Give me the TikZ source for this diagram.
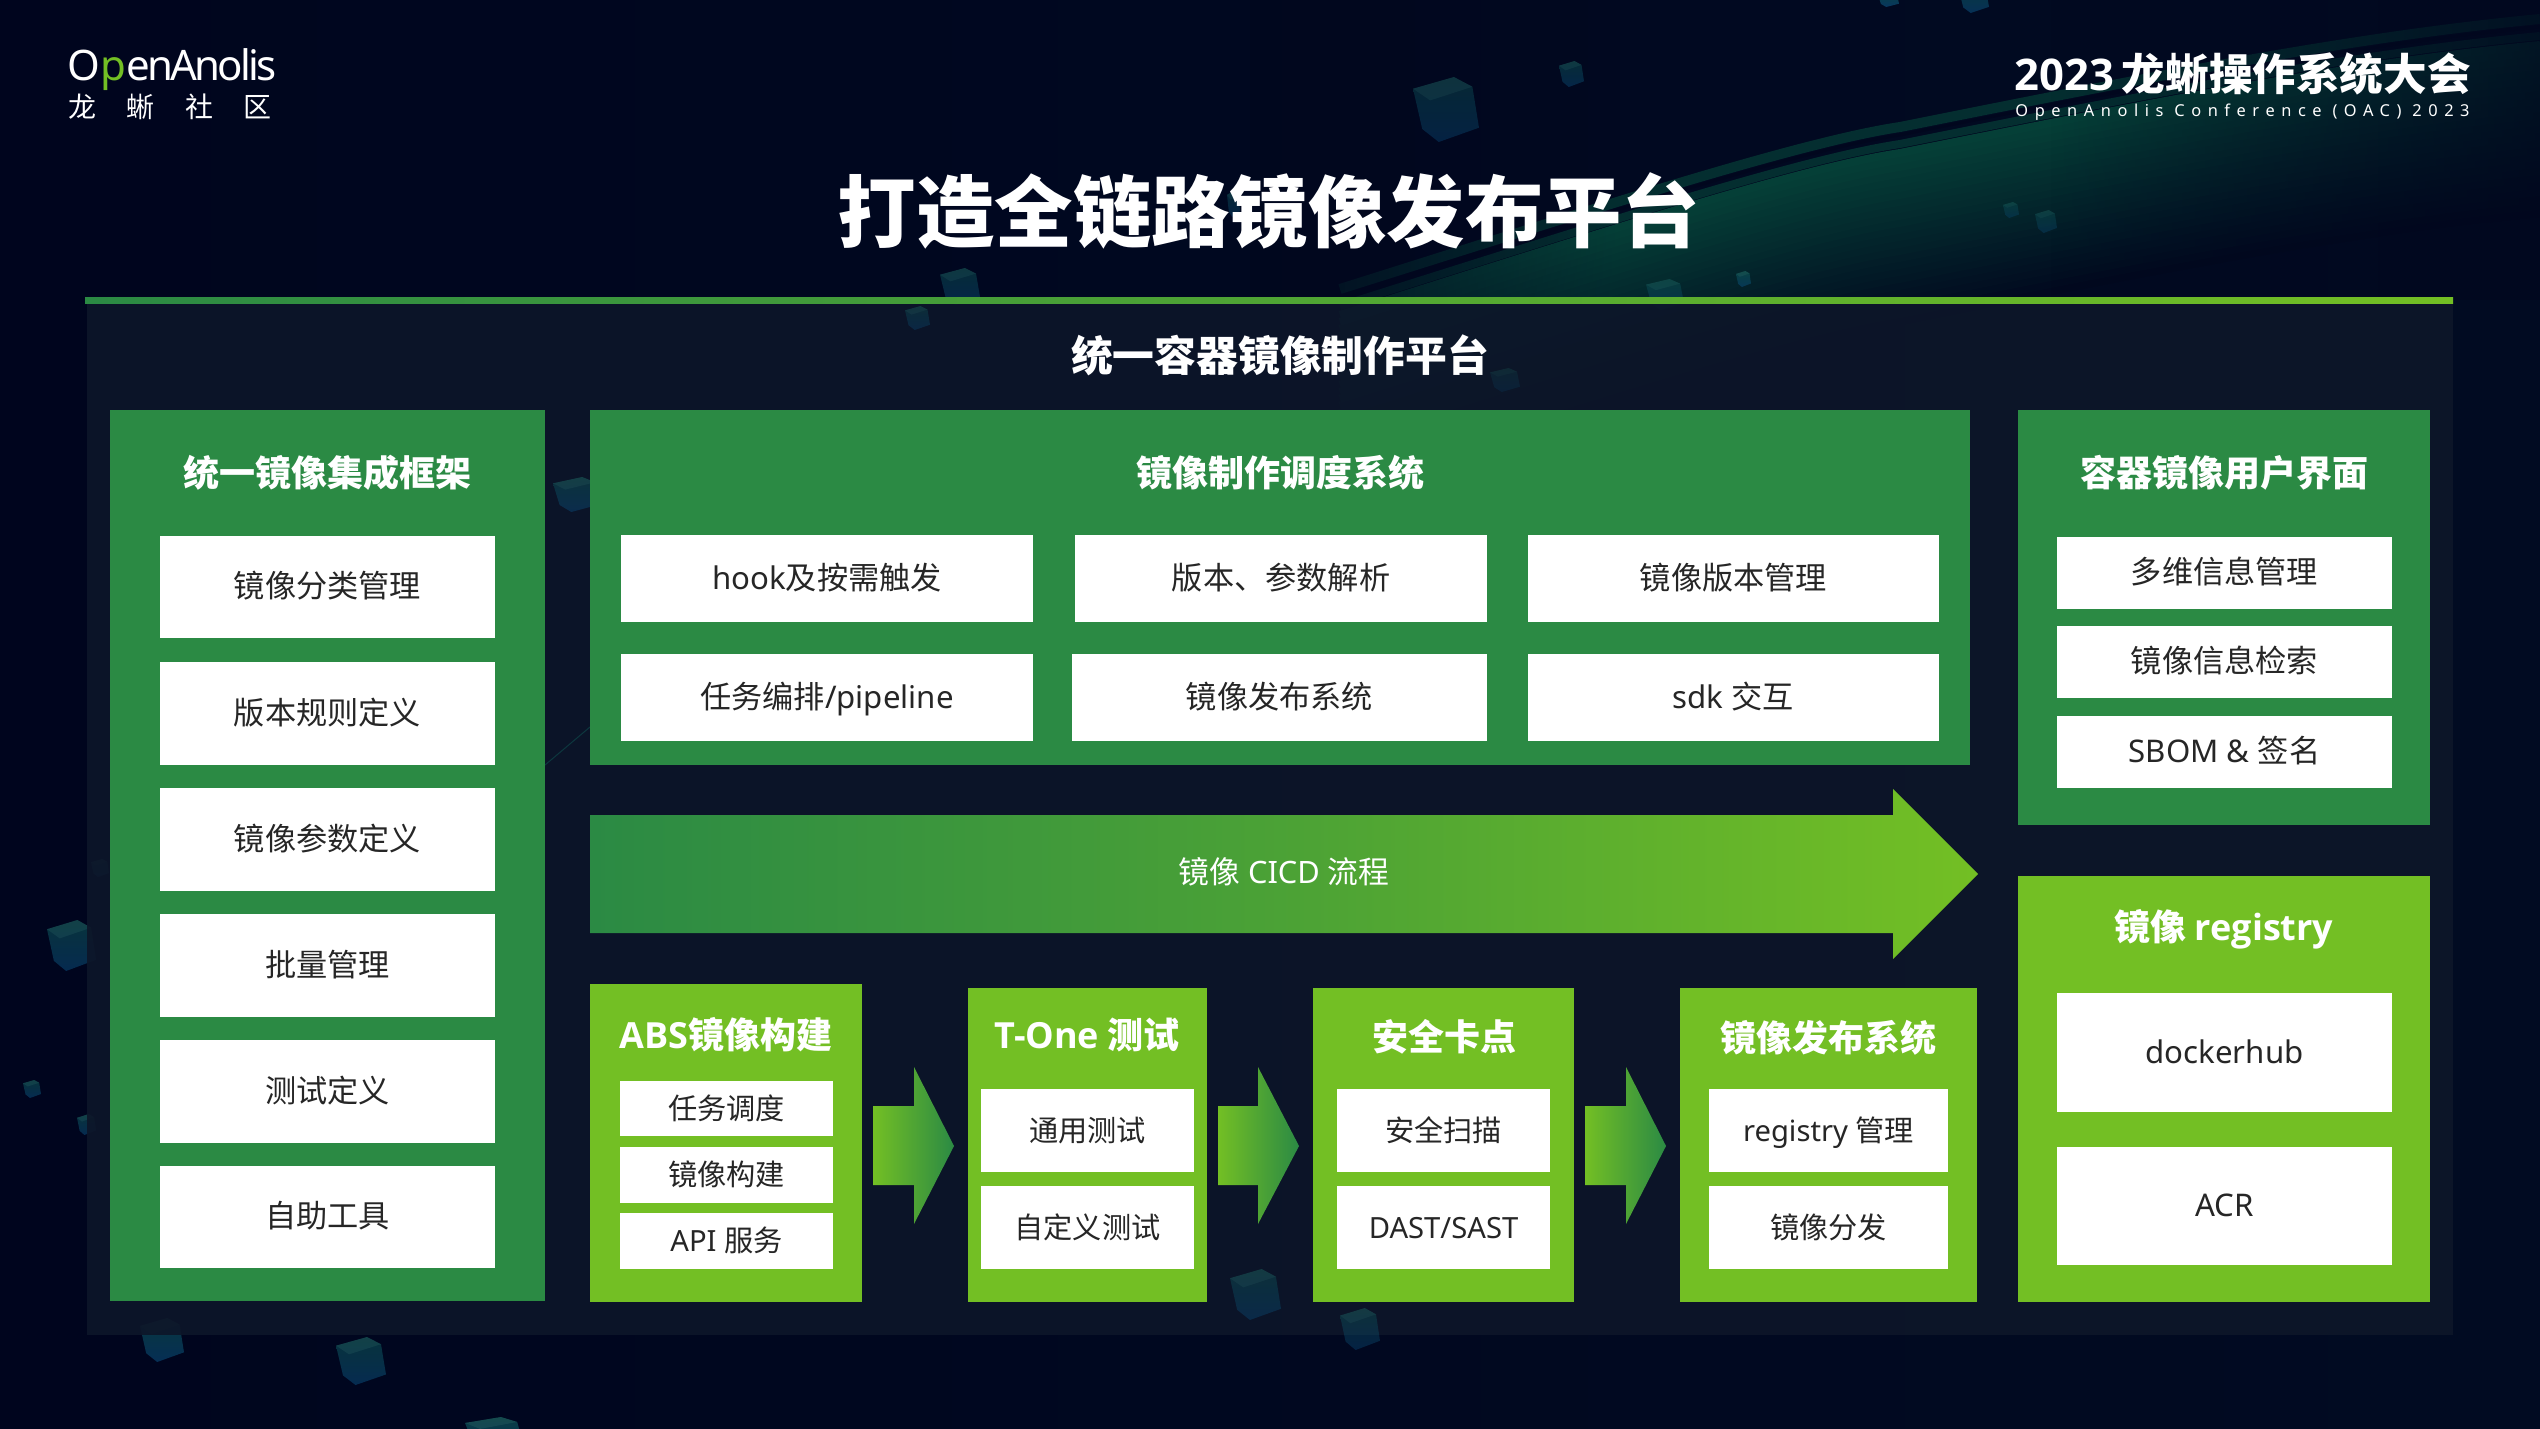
\documentclass[tikz,border=0pt]{standalone}
\usepackage{fontspec}
\setmainfont{Noto Sans}
\newfontfamily\cjk{Noto Sans CJK SC}
\newfontfamily\fbfam{Open Sans}
\newcommand{\fb}{\fbfam\bfseries}
\newfontfamily\logofont{Noto Sans}[LetterSpace=-6.5]
\usetikzlibrary{calc,fadings}
\definecolor{bgnavy}{HTML}{01071E}
\definecolor{bgleft}{HTML}{00051E}
\definecolor{bgright}{HTML}{010B22}
\definecolor{panelnavy}{HTML}{0D1629}
\definecolor{dgreen}{HTML}{2B8A44}
\definecolor{lgreen}{HTML}{73BF24}
\definecolor{inktext}{HTML}{262626}
\definecolor{streak}{HTML}{053F37}
\definecolor{cubetop}{HTML}{0F5A55}
\definecolor{cubebot}{HTML}{0A4A7A}
\newcommand{\zh}[1]{{\cjk #1}}
\newcommand{\hb}[1]{{\fb #1}}
\tikzset{
  whitebox/.style={fill=white,draw=none,inner sep=0pt,text=inktext,text height=1.06em,text depth=0em,font=\fontsize{15.6}{18}\selectfont},
  smallwhite/.style={whitebox,font=\fontsize{14.6}{18}\selectfont},
  headtext/.style={text=white,inner sep=0pt,text height=1.0em,text depth=0em,font=\fontsize{18}{22}\selectfont\cjk\bfseries},
}
% #1 name, #2 x0, #3 y0, #4 x1, #5 y1, #6 style, #7 text
\newcommand{\wbox}[7]{\node[#6,minimum width=(#4-#2)*0.5pt,minimum height=(#5-#3)*0.5pt] (#1) at ({(#2+#4)/2},{(#3+#5)/2}) {#7};}
% translucent little block, bounding box x0 y0 x1 y1 and opacity
\newcommand{\cubebox}[5]{%
  \pgfmathsetmacro{\cubew}{(#3-#1)*0.5}\pgfmathsetmacro{\cubeh}{(#4-#2)*0.5}%
  \pgfmathsetmacro{\cubeo}{#5*0.35}%
  \begin{scope}[shift={(#1,#2)},x={(\cubew pt,0pt)},y={(0pt,-\cubeh pt)}]
  \shade[top color=cubetop,bottom color=cubebot,opacity=#5] (0,.18) -- (.62,0) -- (.9,.15) -- (1,.78) -- (.39,1) -- (.14,.8) -- cycle;
  \fill[cubetop!80!white,opacity=\cubeo] (0,.18) -- (.62,0) -- (.9,.15) -- (.26,.36) -- cycle;
  \end{scope}}
\begin{document}
\begin{tikzpicture}[x=0.5pt,y=-0.5pt]
\useasboundingbox (0,0) rectangle (2540,1429);
% background
\shade[left color=bgleft,right color=bgright] (0,0) rectangle (2540,1429);
% streak in the upper right
\begin{scope}
\clip (0,0) rectangle (2540,1429);
\def\streakcurve{(1340,297) .. controls (1600,215) and (1800,150) .. (1900,135) .. controls (2150,85) and (2350,45) .. (2540,27)}
\foreach \i in {24,23,...,0}{
  \pgfmathtruncatemacro{\m}{100-4*\i}
  \draw[color=streak!\m!bgnavy,line width=4pt,shift={(0,18+\i*7)}] \streakcurve;
}
\draw[color=streak!70!bgnavy,line width=5pt,shift={(0,-8)}] \streakcurve;
\draw[color=streak!70!bgnavy,line width=4pt,shift={(0,9)}] \streakcurve;
\draw[color=bgnavy,line width=1.5pt] \streakcurve;
\fill[bgnavy,path fading=east,opacity=0.9] (1250,0) rectangle (1620,300);
\fill[bgnavy,path fading=west,opacity=0.75] (2050,0) rectangle (2540,300);
\end{scope}
% small blocks behind the panel
\cubebox{1413}{77}{1479}{142}{0.4}
\cubebox{1559}{61}{1584}{87}{0.45}
\cubebox{1878}{-8}{1899}{7}{0.7}
\cubebox{1959}{-15}{1989}{13}{0.6}
\cubebox{2003}{202}{2019}{218}{0.35}
\cubebox{2035}{210}{2057}{233}{0.35}
\cubebox{1736}{271}{1751}{287}{0.55}
\cubebox{1646}{279}{1684}{310}{0.4}
\cubebox{1227}{190}{1240}{217}{0.4}
\cubebox{47}{920}{96}{971}{0.55}
\cubebox{91}{859}{109}{877}{0.6}
\cubebox{23}{1080}{41}{1098}{0.55}
\cubebox{77}{1114}{96}{1135}{0.55}
\cubebox{336}{1337}{386}{1385}{0.55}
\cubebox{465}{1417}{523}{1450}{0.65}
\cubebox{140}{1318}{184}{1362}{0.6}
\cubebox{940}{268}{980}{305}{0.45}
% panel
\fill[panelnavy,opacity=0.92] (87,303) rectangle (2453,1335);
\shade[left color=dgreen,right color=lgreen] (85,297) rectangle (2453,303);
% blocks seen through the panel
\cubebox{905}{306}{930}{330}{0.35}
\cubebox{553}{477}{600}{512}{0.45}
\cubebox{1230}{1269}{1281}{1320}{0.4}
\cubebox{1340}{1308}{1380}{1350}{0.4}
\cubebox{1490}{368}{1520}{392}{0.2}
\draw[color=cubetop,line width=0.5pt,opacity=0.5] (545,765) -- (590,727);
% logo
\node[inner sep=0pt,text=white,anchor=west,font=\fontsize{21}{24}\selectfont\logofont] (logo) at (67,70) {O{\color{lgreen}p}enAnolis};
\node[inner sep=0pt,text=white,anchor=west,font=\fontsize{14}{16}\selectfont] (logozh) at (68,107) {\zh{龙\hspace{1.09em}蜥\hspace{1.09em}社\hspace{1.09em}区}};
% conference
\node[inner sep=0pt,text=white,anchor=east,font=\fontsize{21.8}{24}\selectfont] (conf) at (2471,74) {{\fb 2023}\hspace{-0.08em} {\cjk\bfseries 龙蜥操作系统大会}};
\node[inner sep=0pt,text=white,anchor=east,font=\fontsize{8.2}{10}\selectfont\addfontfeatures{LetterSpace=40}] (confen) at (2470,112) {OpenAnolis Conference (OAC) 2023};
% titles
\node[inner sep=0pt,text=white,font=\fontsize{39.2}{44}\selectfont\cjk\bfseries] (title) at (1269,211) {打造全链路镜像发布平台};
\node[inner sep=0pt,text=white,font=\fontsize{20.9}{24}\selectfont\cjk\bfseries] (paneltitle) at (1280,355) {统一容器镜像制作平台};
% left column
\fill[dgreen] (110,410) rectangle (545,1301);
\node[headtext] (lefthead) at (327,476) {统一镜像集成框架};
\wbox{l1}{160}{536}{495}{638}{whitebox}{\zh{镜像分类管理}}
\wbox{l2}{160}{662}{495}{765}{whitebox}{\zh{版本规则定义}}
\wbox{l3}{160}{788}{495}{891}{whitebox}{\zh{镜像参数定义}}
\wbox{l4}{160}{914}{495}{1017}{whitebox}{\zh{批量管理}}
\wbox{l5}{160}{1040}{495}{1143}{whitebox}{\zh{测试定义}}
\wbox{l6}{160}{1166}{495}{1268}{whitebox}{\zh{自助工具}}
% middle
\fill[dgreen] (590,410) rectangle (1970,765);
\node[headtext] (midhead) at (1280,476) {镜像制作调度系统};
\wbox{m1}{621}{535}{1033}{622}{whitebox}{hook\zh{及按需触发}}
\wbox{m2}{1075}{535}{1487}{622}{whitebox}{\zh{版本、参数解析}}
\wbox{m3}{1528}{535}{1939}{622}{whitebox}{\zh{镜像版本管理}}
\wbox{m4}{621}{654}{1033}{741}{whitebox}{\zh{任务编排}/pipeline}
\wbox{m5}{1072}{654}{1487}{741}{whitebox}{\zh{镜像发布系统}}
\wbox{m6}{1528}{654}{1939}{741}{whitebox}{sdk \zh{交互}}
% right top
\fill[dgreen] (2018,410) rectangle (2430,825);
\node[headtext] (righthead) at (2224,476) {容器镜像用户界面};
\wbox{r1}{2057}{537}{2392}{609}{whitebox}{\zh{多维信息管理}}
\wbox{r2}{2057}{626}{2392}{698}{whitebox}{\zh{镜像信息检索}}
\wbox{r3}{2057}{716}{2392}{788}{whitebox}{SBOM \& \zh{签名}}
% registry
\fill[lgreen] (2018,876) rectangle (2430,1302);
\node[headtext] (reghead) at (2224,930) {镜像 \hb{registry}};
\wbox{g1}{2057}{993}{2392}{1112}{whitebox}{dockerhub}
\wbox{g2}{2057}{1147}{2392}{1265}{whitebox}{ACR}
% CICD arrow
\shade[left color=dgreen,right color=lgreen,middle color=dgreen!55!lgreen] (590,815) -- (1893,815) -- (1893,789) -- (1978,874) -- (1893,959) -- (1893,933) -- (590,933) -- cycle;
\node[inner sep=0pt,text=white,text height=1.06em,text depth=0em,font=\fontsize{15.4}{18}\selectfont] (cicd) at (1284,873) {\zh{镜像} CICD \zh{流程}};
% ABS
\fill[lgreen] (590,984) rectangle (862,1302);
\node[headtext] (abshead) at (726,1038) {\hb{ABS}镜像构建};
\wbox{a1}{620}{1081}{833}{1136}{smallwhite}{\zh{任务调度}}
\wbox{a2}{620}{1147}{833}{1203}{smallwhite}{\zh{镜像构建}}
\wbox{a3}{620}{1213}{833}{1269}{smallwhite}{API \zh{服务}}
% T-One
\fill[lgreen] (968,988) rectangle (1207,1302);
\node[headtext] (thead) at (1087,1038) {\hb{T-One} 测试};
\wbox{t1}{981}{1089}{1194}{1172}{smallwhite}{\zh{通用测试}}
\wbox{t2}{981}{1186}{1194}{1269}{smallwhite}{\zh{自定义测试}}
% Security
\fill[lgreen] (1313,988) rectangle (1574,1302);
\node[headtext] (shead) at (1444,1040) {安全卡点};
\wbox{s1}{1337}{1089}{1550}{1172}{smallwhite}{\zh{安全扫描}}
\wbox{s2}{1337}{1186}{1550}{1269}{smallwhite}{DAST/SAST}
% Publish
\fill[lgreen] (1680,988) rectangle (1977,1302);
\node[headtext] (phead) at (1828,1041) {镜像发布系统};
\wbox{p1}{1709}{1089}{1948}{1172}{smallwhite}{registry \zh{管理}}
\wbox{p2}{1709}{1186}{1948}{1269}{smallwhite}{\zh{镜像分发}}
% flow arrows
\shade[left color=lgreen,right color=dgreen] (873,1106) -- (914,1106) -- (914,1067) -- (954,1146) -- (914,1224) -- (914,1185) -- (873,1185) -- cycle;
\shade[left color=lgreen,right color=dgreen] (1218,1106) -- (1258,1106) -- (1258,1067) -- (1299,1146) -- (1258,1224) -- (1258,1185) -- (1218,1185) -- cycle;
\shade[left color=lgreen,right color=dgreen] (1585,1106) -- (1626,1106) -- (1626,1067) -- (1666,1146) -- (1626,1224) -- (1626,1185) -- (1585,1185) -- cycle;
\end{tikzpicture}
\end{document}
